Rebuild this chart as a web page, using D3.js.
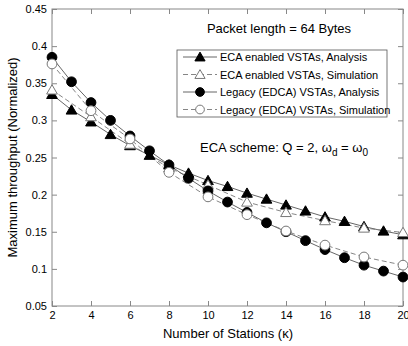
<!DOCTYPE html>
<html>
<head>
<meta charset="utf-8">
<script src="https://cdn.jsdelivr.net/npm/d3@7"></script>
<style>
  body { margin: 0; background: #fff; }
  text { font-family: Arial, "Liberation Sans", sans-serif; fill: #000; }
</style>
</head>
<body>
<div id="chart"></div>
<script>
// number of stations for analysis (every station) and simulation (even only)
var stations = [2,3,4,5,6,7,8,9,10,11,12,13,14,15,16,17,18,19,20];
var simStations = [2,4,6,8,10,12,14,16,18,20];

var ecaAnalysis = [0.335,0.314,0.298,0.281,0.266,0.253,0.240,0.229,0.219,0.211,0.202,0.194,0.186,0.178,0.170,0.164,0.157,0.151,0.146];
var ecaSim = [0.341,0.305,0.268,0.236,0.213,0.190,0.176,0.165,0.155,0.149];
var legacyAnalysis = [0.385,0.352,0.324,0.300,0.279,0.259,0.240,0.222,0.205,0.190,0.176,0.162,0.150,0.138,0.126,0.115,0.105,0.097,0.089];
var legacySim = [0.376,0.313,0.275,0.230,0.197,0.173,0.151,0.132,0.116,0.105];

var xTicks = [2,4,6,8,10,12,14,16,18,20];
var yTicks = [0.05,0.1,0.15,0.2,0.25,0.3,0.35,0.4,0.45];

var margin = { top: 9, right: 5, bottom: 40, left: 52 },
    width = 408 - margin.left - margin.right,
    height = 346 - margin.top - margin.bottom;

var svg = d3.select("#chart").append("svg")
  .attr("width", 408).attr("height", 346);

var g = svg.append("g")
  .attr("transform", "translate(" + margin.left + "," + margin.top + ")");

var x = d3.scaleLinear().domain([2, 20]).range([0, width]);
var y = d3.scaleLinear().domain([0.05, 0.45]).range([height, 0]);

var axisColor = "#888";
function styleAxis(sel) {
  sel.select(".domain").remove();
  sel.selectAll("line").attr("stroke", axisColor);
  sel.selectAll("text").attr("font-size", 11).attr("fill", "#000");
}

// axes with inward ticks
g.append("g").attr("transform", "translate(0," + height + ")")
  .call(d3.axisBottom(x).tickValues(xTicks).tickSizeInner(-5).tickSizeOuter(0).tickPadding(5))
  .call(styleAxis);
g.append("g")
  .call(d3.axisTop(x).tickValues(xTicks).tickSizeInner(-5).tickSizeOuter(0).tickFormat(""))
  .call(styleAxis);
g.append("g")
  .call(d3.axisLeft(y).tickValues(yTicks).tickSizeInner(-5).tickSizeOuter(0).tickPadding(5)
    .tickFormat(function(d) { return d3.format("")(+d.toFixed(2)); }))
  .call(styleAxis);
g.append("g").attr("transform", "translate(" + width + ",0)")
  .call(d3.axisRight(y).tickValues(yTicks).tickSizeInner(-5).tickSizeOuter(0).tickFormat(""))
  .call(styleAxis);

g.append("rect").attr("width", width).attr("height", height)
  .attr("fill", "none").attr("stroke", axisColor).attr("stroke-width", 1);

// series
var series = [
  { name: "ECA enabled VSTAs, Analysis", xs: stations, ys: ecaAnalysis, marker: "triangle", fill: "#000", dash: null, stroke: "#555" },
  { name: "ECA enabled VSTAs, Simulation", xs: simStations, ys: ecaSim, marker: "triangle", fill: "#fff", dash: "5,3", stroke: "#777" },
  { name: "Legacy (EDCA) VSTAs, Analysis", xs: stations, ys: legacyAnalysis, marker: "circle", fill: "#000", dash: null, stroke: "#555" },
  { name: "Legacy (EDCA) VSTAs, Simulation", xs: simStations, ys: legacySim, marker: "circle", fill: "#fff", dash: "5,3", stroke: "#777" }
];

var line = d3.line().x(function(d) { return x(d[0]); }).y(function(d) { return y(d[1]); });

function drawMarker(sel, s, size) {
  var sym = s.marker === "triangle" ? d3.symbolTriangle : d3.symbolCircle;
  sel.attr("d", d3.symbol().type(sym).size(size))
    .attr("fill", s.fill)
    .attr("stroke", s.fill === "#000" ? "#000" : "#777")
    .attr("stroke-width", 1);
}

series.forEach(function(s) {
  var pts = s.xs.map(function(v, i) { return [v, s.ys[i]]; });
  g.append("path").datum(pts)
    .attr("d", line).attr("fill", "none")
    .attr("stroke", s.stroke).attr("stroke-width", 0.9)
    .attr("stroke-dasharray", s.dash);
});
series.forEach(function(s) {
  var pts = s.xs.map(function(v, i) { return [v, s.ys[i]]; });
  g.selectAll(null).data(pts).enter().append("path")
    .attr("transform", function(d) {
      var dy = s.marker === "triangle" ? 1 : 0;
      return "translate(" + x(d[0]) + "," + (y(d[1]) + dy) + ")";
    })
    .call(drawMarker, s, s.marker === "triangle" ? 50 : 75);
});

// annotation
svg.append("text").attr("x", 279).attr("y", 33).attr("text-anchor", "middle")
  .attr("font-size", 13).text("Packet length = 64 Bytes");

// legend
var lg = svg.append("g").attr("transform", "translate(177,50)");
lg.append("rect").attr("width", 210).attr("height", 67)
  .attr("fill", "#fff").attr("stroke", "#555").attr("stroke-width", 0.8);
series.forEach(function(s, i) {
  var row = lg.append("g").attr("transform", "translate(0," + (7 + i * 17.5) + ")");
  row.append("line").attr("x1", 6).attr("x2", 40).attr("y1", 0).attr("y2", 0)
    .attr("stroke", s.stroke).attr("stroke-width", 0.9).attr("stroke-dasharray", s.dash);
  row.append("path").attr("transform", "translate(23," + (s.marker === "triangle" ? 1 : 0) + ")")
    .call(drawMarker, s, s.marker === "triangle" ? 45 : 60);
  row.append("text").attr("x", 43).attr("y", 4).attr("font-size", 11).text(s.name);
});

// scheme text
var st = svg.append("text").attr("x", 284).attr("y", 152).attr("text-anchor", "middle").attr("font-size", 13);
st.append("tspan").text("ECA scheme: Q = 2, ω");
st.append("tspan").attr("font-size", 10).attr("dy", 4).text("d");
st.append("tspan").attr("dy", -4).text(" = ω");
st.append("tspan").attr("font-size", 10).attr("dy", 4).text("0");

// axis labels
svg.append("text").attr("x", 228).attr("y", 338).attr("text-anchor", "middle")
  .attr("font-size", 13).text("Number of Stations (κ)");
svg.append("text").attr("transform", "translate(17," + (margin.top + height / 2) + ") rotate(-90)")
  .attr("text-anchor", "middle").attr("font-size", 13).text("Maximum throughput (Normalized)");
</script>
</body>
</html>
